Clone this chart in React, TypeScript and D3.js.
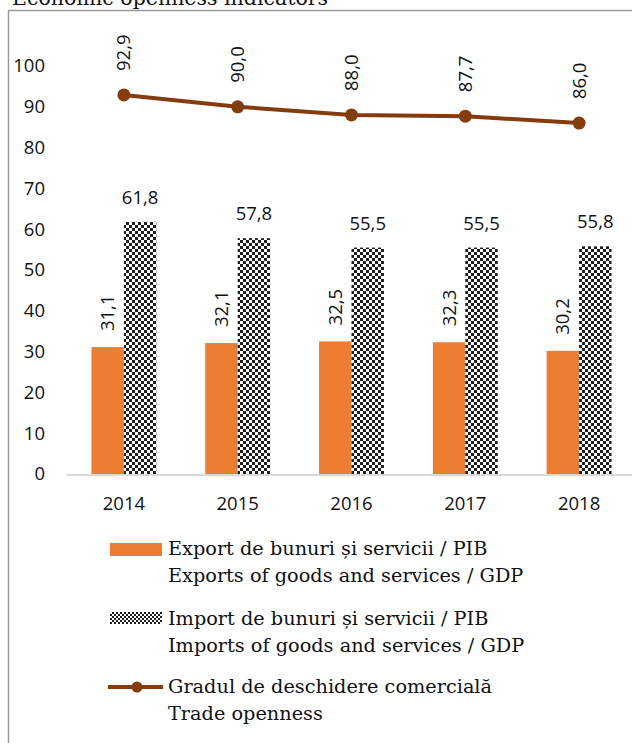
import React from "react";
import * as d3 from "d3";

const years = ["2014", "2015", "2016", "2017", "2018"];
const exportsGdp = [31.1, 32.1, 32.5, 32.3, 30.2];
const importsGdp = [61.8, 57.8, 55.5, 55.5, 55.8];
const openness = [92.9, 90.0, 88.0, 87.7, 86.0];
const yTicks = [0, 10, 20, 30, 40, 50, 60, 70, 80, 90, 100];
const title = "Economic openness indicators";
const legendItems = [
  ["Export de bunuri și servicii / PIB", "Exports of goods and services / GDP"],
  ["Import de bunuri și servicii / PIB", "Imports of goods and services / GDP"],
  ["Gradul de deschidere comercială", "Trade openness"],
];

const W = 632;
const H = 743;
const SANS = "'Open Sans', sans-serif";
const SERIF = "'DejaVu Serif', serif";
const ORANGE = "#ED7D31";
const BROWN = "#843C0C";

const fmt = (v: number) => v.toFixed(1).replace(".", ",");

export default function App() {
  const y = d3.scaleLinear().domain([0, 100]).range([474, 66]);
  const x = d3
    .scaleBand<string>()
    .domain(years)
    .range([67, 636])
    .paddingInner(0.43)
    .paddingOuter(0.215);
  const inner = d3
    .scaleBand<string>()
    .domain(["export", "import"])
    .range([0, x.bandwidth()]);
  const cx = (yr: string) => (x(yr) as number) + x.bandwidth() / 2;
  const line = d3
    .line<number>()
    .x((_, i) => cx(years[i]))
    .y((d) => y(d));

  const legendBase = [555, 625, 693];

  return (
    <svg
      width={W}
      height={H}
      style={{ position: "absolute", left: 0, top: 0, background: "#fff" }}
    >
      <defs>
        <pattern id="checker" width="6" height="6" patternUnits="userSpaceOnUse">
          <rect width="6" height="6" fill="#fff" />
          <rect x="0" y="0" width="3" height="3" fill="#1e1e1e" />
          <rect x="3" y="3" width="3" height="3" fill="#1e1e1e" />
        </pattern>
        <pattern id="checkerSmall" width="4" height="4" patternUnits="userSpaceOnUse">
          <rect width="4" height="4" fill="#fff" />
          <rect x="0" y="0" width="2" height="2" fill="#1e1e1e" />
          <rect x="2" y="2" width="2" height="2" fill="#1e1e1e" />
        </pattern>
      </defs>
      <rect width={W} height={H} fill="#fff" />
      <text x={12} y={5} fontFamily={SERIF} fontSize={20.5} fill="#111">
        {title}
      </text>
      <path
        d={`M8.5,${H} V10.5 H${W}`}
        fill="none"
        stroke="#9a9a9a"
        strokeWidth={1.5}
      />

      {/* y tick labels */}
      {yTicks.map((t) => (
        <text
          key={t}
          x={45}
          y={y(t)}
          dy="0.35em"
          textAnchor="end"
          fontFamily={SANS}
          fontSize={18.5}
          fill="#111"
        >
          {t}
        </text>
      ))}

      {/* bars */}
      {years.map((yr, i) => {
        const x0 = x(yr) as number;
        const ex = x0 + (inner("export") as number);
        const im = x0 + (inner("import") as number);
        const bw = inner.bandwidth();
        return (
          <g key={yr}>
            <rect
              x={ex}
              y={y(exportsGdp[i])}
              width={bw}
              height={y(0) - y(exportsGdp[i])}
              fill={ORANGE}
            />
            <rect
              x={im}
              y={y(importsGdp[i])}
              width={bw}
              height={y(0) - y(importsGdp[i])}
              fill="url(#checker)"
            />
            <text
              transform={`translate(${ex + bw / 2},${y(exportsGdp[i]) - 16}) rotate(-90)`}
              dy="0.35em"
              textAnchor="start"
              fontFamily={SANS}
              fontSize={18.5}
              fill="#111"
            >
              {fmt(exportsGdp[i])}
            </text>
            <text
              x={im + bw / 2}
              y={y(importsGdp[i]) - 18}
              textAnchor="middle"
              fontFamily={SANS}
              fontSize={18.5}
              fill="#111"
            >
              {fmt(importsGdp[i])}
            </text>
            <text
              x={cx(yr)}
              y={510}
              textAnchor="middle"
              fontFamily={SANS}
              fontSize={18.5}
              fill="#111"
            >
              {yr}
            </text>
          </g>
        );
      })}

      {/* baseline */}
      <line x1={67} x2={W} y1={y(0) + 1} y2={y(0) + 1} stroke="#d9d9d9" strokeWidth={2} />

      {/* line series */}
      <path d={line(openness) || ""} fill="none" stroke={BROWN} strokeWidth={4} />
      {openness.map((v, i) => (
        <g key={i}>
          <circle cx={cx(years[i])} cy={y(v)} r={6.5} fill={BROWN} />
          <text
            transform={`translate(${cx(years[i])},${y(v) - 24}) rotate(-90)`}
            dy="0.35em"
            textAnchor="start"
            fontFamily={SANS}
            fontSize={18.5}
            fill="#111"
          >
            {fmt(v)}
          </text>
        </g>
      ))}

      {/* legend */}
      <rect x={110} y={543} width={52} height={13} fill={ORANGE} />
      <rect x={110} y={612} width={52} height={12} fill="url(#checkerSmall)" />
      <line x1={108} x2={163} y1={687} y2={687} stroke={BROWN} strokeWidth={4} />
      <circle cx={137} cy={687} r={5.5} fill={BROWN} />
      {legendItems.map((lines, k) => (
        <g key={k}>
          {lines.map((s, j) => (
            <text
              key={j}
              x={168}
              y={legendBase[k] + j * 27}
              fontFamily={SERIF}
              fontSize={19.3}
              fill="#111"
            >
              {s}
            </text>
          ))}
        </g>
      ))}
    </svg>
  );
}
